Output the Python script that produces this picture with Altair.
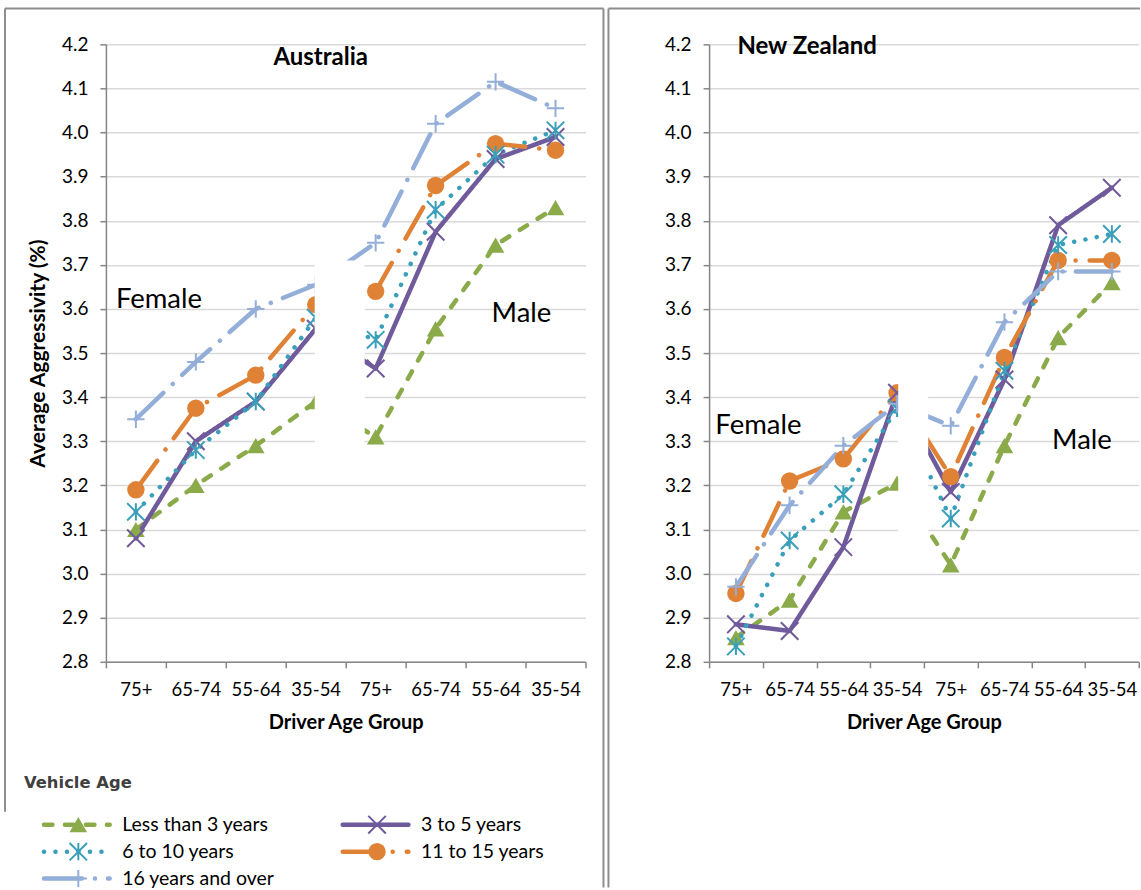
import altair as alt
import pandas as pd

# ---------------- data ----------------
series = ["Less than 3 years", "3 to 5 years", "6 to 10 years", "11 to 15 years", "16 years and over"]
sexes = ["Female", "Male"]
age_groups = ["75+", "65-74", "55-64", "35-54"]
y_ticks = [2.8, 2.9, 3.0, 3.1, 3.2, 3.3, 3.4, 3.5, 3.6, 3.7, 3.8, 3.9, 4.0, 4.1, 4.2]

# order: Female 75+, 65-74, 55-64, 35-54, Male 75+, 65-74, 55-64, 35-54
aus_less_than_3 = [3.10, 3.20, 3.29, 3.39, 3.31, 3.555, 3.745, 3.83]
aus_3_to_5 = [3.08, 3.30, 3.39, 3.555, 3.465, 3.775, 3.94, 3.99]
aus_6_to_10 = [3.14, 3.28, 3.39, 3.58, 3.53, 3.825, 3.95, 4.005]
aus_11_to_15 = [3.19, 3.375, 3.45, 3.61, 3.64, 3.88, 3.975, 3.96]
aus_16_plus = [3.35, 3.48, 3.60, 3.655, 3.75, 4.02, 4.115, 4.055]

nz_less_than_3 = [2.855, 2.94, 3.14, 3.205, 3.02, 3.29, 3.535, 3.66]
nz_3_to_5 = [2.885, 2.87, 3.06, 3.41, 3.185, 3.44, 3.79, 3.875]
nz_6_to_10 = [2.835, 3.075, 3.18, 3.375, 3.125, 3.46, 3.745, 3.77]
nz_11_to_15 = [2.955, 3.21, 3.26, 3.41, 3.22, 3.49, 3.71, 3.71]
nz_16_plus = [2.97, 3.155, 3.29, 3.385, 3.335, 3.57, 3.685, 3.685]

# ---------------- styles ----------------
FONT = "Lato"
AXIS_GRAY = "#868686"
BORDER = "#8E8E8E"
COLORS = ["#8BAA4A", "#6F5A9B", "#3A9FBA", "#E08236", "#93AED8"]
DASHES = [[8.5, 12.5], [1, 0], [0.1, 11.4], [36, 14, 0.1, 14], [38, 13, 0.1, 13]]
SHAPES = ["triangle-up", "M-1,-1L1,1M-1,1L1,-1", "M-1,-1L1,1M-1,1L1,-1M0,-1L0,1",
          "circle", "M-1,0L1,0M0,-1L0,1"]
SIZES = [310, 300, 290, 390, 260]
FILLED = [series[0], series[3]]
STROKED = [series[1], series[2], series[4]]
XTICK_FS = 18.5
YTICK_FS = 19

cats = [f"{s[0]}|{a}" for s in sexes for a in age_groups]

color_scale = alt.Scale(domain=series, range=COLORS)
dash_scale = alt.Scale(domain=series, range=DASHES)
shape_scale = alt.Scale(domain=series, range=SHAPES)
size_scale = alt.Scale(domain=series, range=SIZES)


def long_df(values):
    rows = []
    for s, vals in zip(series, values):
        for i, (c, v) in enumerate(zip(cats, vals)):
            rows.append({"series": s, "cat": c, "pos": i, "val": v})
    return pd.DataFrame(rows)


aus_df = long_df([aus_less_than_3, aus_3_to_5, aus_6_to_10, aus_11_to_15, aus_16_plus])
nz_df = long_df([nz_less_than_3, nz_3_to_5, nz_6_to_10, nz_11_to_15, nz_16_plus])

x_axis = alt.Axis(
    labelExpr="split(datum.value, '|')[1]", tickBand="extent", labelAngle=0,
    labelFont=FONT, labelFontSize=XTICK_FS, labelColor="black", labelPadding=13,
    labelOverlap=False, tickSize=6, tickColor=AXIS_GRAY, tickWidth=1.5,
    domainColor=AXIS_GRAY, domainWidth=1.5, grid=False,
    titleFont=FONT, titleFontSize=20, titleFontWeight="bold", titleColor="black",
    titlePadding=13)

y_axis = alt.Axis(
    values=y_ticks, format=".1f", grid=True, gridColor="#D9D9D9", gridWidth=1.5,
    domainColor=AXIS_GRAY, domainWidth=1.5, tickColor=AXIS_GRAY, tickWidth=1.5,
    tickSize=6, labelFont=FONT, labelFontSize=YTICK_FS, labelColor="black",
    labelPadding=12, titleFont=FONT, titleFontSize=21, titleFontWeight="bold",
    titleColor="black", titlePadding=13)


def xenc(field="cat", bp=0.5):
    return alt.X(f"{field}:N", bandPosition=bp,
                 scale=alt.Scale(type="band", domain=cats, paddingInner=0, paddingOuter=0),
                 axis=x_axis, title="Driver Age Group")


def yenc(ytitle, field="val"):
    return alt.Y(f"{field}:Q", scale=alt.Scale(domain=[2.8, 4.2], nice=False, zero=False),
                 axis=y_axis, title=ytitle)


one = pd.DataFrame({"k": [0]})


def vrule(x, y0, y1):
    return alt.Chart(one).mark_rule(color=BORDER, strokeWidth=2).encode(
        x=alt.value(x), y=alt.value(y0), y2=alt.value(y1))


def hrule(x0, x1, y):
    return alt.Chart(one).mark_rule(color=BORDER, strokeWidth=2).encode(
        x=alt.value(x0), x2=alt.value(x1), y=alt.value(y))


def panel(df, ytitle, notes, gap, borders, width):
    col = alt.Color("series:N", scale=color_scale, legend=None)
    lines = alt.Chart(df).mark_line(strokeWidth=4.5, strokeCap="round", strokeJoin="round").encode(
        x=xenc(), y=yenc(ytitle), color=col,
        strokeDash=alt.StrokeDash("series:N", scale=dash_scale, legend=None),
        order=alt.Order("pos:Q"))
    pts_f = alt.Chart(df).transform_filter(
        alt.FieldOneOfPredicate(field="series", oneOf=FILLED)
    ).mark_point(filled=True, opacity=1).encode(
        x=xenc(), y=yenc(ytitle), color=col,
        shape=alt.Shape("series:N", scale=shape_scale, legend=None),
        size=alt.Size("series:N", scale=size_scale, legend=None))
    pts_s = alt.Chart(df).transform_filter(
        alt.FieldOneOfPredicate(field="series", oneOf=STROKED)
    ).mark_point(filled=False, opacity=1, strokeWidth=2).encode(
        x=xenc(), y=yenc(ytitle), color=col,
        shape=alt.Shape("series:N", scale=shape_scale, legend=None),
        size=alt.Size("series:N", scale=size_scale, legend=None))
    gdf = pd.DataFrame({"cat": [gap[0]], "cat2": [gap[2]], "val": [gap[4]], "val2": [gap[5]]})
    gap_rect = alt.Chart(gdf).mark_rect(color="white").encode(
        x=xenc("cat", gap[1]), x2=alt.X2("cat2", bandPosition=gap[3]),
        y=yenc(ytitle), y2=alt.Y2("val2"))
    texts = []
    for (txt, c, v, bp, align, size, weight) in notes:
        tdf = pd.DataFrame({"cat": [c], "val": [v], "txt": [txt]})
        texts.append(alt.Chart(tdf).mark_text(
            align=align, baseline="middle", font=FONT, fontSize=size,
            fontWeight=weight, color="black").encode(
            x=xenc("cat", bp), y=yenc(ytitle), text="txt:N"))
    return alt.layer(lines, pts_f, pts_s, gap_rect, *texts, *borders).properties(
        width=width, height=618)


aus_notes = [
    ("Australia", "F|35-54", 4.17, 0.583, "center", 24, "bold"),
    ("Female", "F|75+", 3.62, 0.167, "left", 27.5, "normal"),
    ("Male", "M|55-64", 3.588, 0.433, "left", 27.5, "normal"),
]
nz_notes = [
    ("New Zealand", "F|75+", 4.193, 0.527, "left", 24, "bold"),
    ("Female", "F|75+", 3.335, 0.117, "left", 27.5, "normal"),
    ("Male", "M|55-64", 3.30, 0.387, "left", 27.5, "normal"),
]
aus_gap = ("F|35-54", 0.483, "M|75+", 0.317, 3.24, 3.71)
nz_gap = ("F|35-54", 0.522, "M|75+", 0.08, 3.05, 3.45)

aus_borders = [hrule(-101, 498, -36), vrule(-101, -36, 768), vrule(498, -36, 844)]
nz_borders = [hrule(-100.7, 431.3, -36), vrule(-100.7, -36, 844)]

aus = panel(aus_df, "Average Aggressivity (%)", aus_notes, aus_gap, aus_borders, 480)
nz = panel(nz_df, None, nz_notes, nz_gap, nz_borders, 430)

# ---------------- legend ----------------
leg_df = pd.DataFrame({"series": series, "idx": list(range(len(series)))})
leg_x = alt.Scale(domain=[0, 1], range=[-62, 237])
leg_y = alt.Scale(domain=[0, 2], range=[0, 54])
lbase = alt.Chart(leg_df).transform_calculate(
    col="datum.idx % 2", row="floor(datum.idx / 2)",
    xend="datum.idx % 2 + 0.22", xm="datum.idx % 2 + 0.115", xt="datum.idx % 2 + 0.262")
lcol = alt.Color("series:N", scale=color_scale, legend=None)
seg = lbase.mark_rule(strokeWidth=4.5, strokeCap="round").encode(
    x=alt.X("col:Q", scale=leg_x, axis=None), x2="xend:Q",
    y=alt.Y("row:Q", scale=leg_y, axis=None), color=lcol,
    strokeDash=alt.StrokeDash("series:N", scale=dash_scale, legend=None))
lpf = lbase.transform_filter(alt.FieldOneOfPredicate(field="series", oneOf=FILLED)).mark_point(
    filled=True, opacity=1).encode(
    x=alt.X("xm:Q", scale=leg_x, axis=None), y=alt.Y("row:Q", scale=leg_y, axis=None),
    color=lcol, shape=alt.Shape("series:N", scale=shape_scale, legend=None),
    size=alt.Size("series:N", scale=size_scale, legend=None))
lps = lbase.transform_filter(alt.FieldOneOfPredicate(field="series", oneOf=STROKED)).mark_point(
    filled=False, opacity=1, strokeWidth=2).encode(
    x=alt.X("xm:Q", scale=leg_x, axis=None), y=alt.Y("row:Q", scale=leg_y, axis=None),
    color=lcol, shape=alt.Shape("series:N", scale=shape_scale, legend=None),
    size=alt.Size("series:N", scale=size_scale, legend=None))
ltxt = lbase.mark_text(align="left", baseline="middle", font=FONT, fontSize=19.5,
                       color="black").encode(
    x=alt.X("xt:Q", scale=leg_x, axis=None), y=alt.Y("row:Q", scale=leg_y, axis=None),
    text="series:N")
legend = alt.layer(seg, lpf, lps, ltxt).properties(
    width=300, height=54,
    title=alt.TitleParams("Vehicle Age", anchor="start", frame="group", dx=-82, offset=21,
                          font="DejaVu Sans", fontSize=16.4, fontWeight="bold",
                          color="#404040"))

chart = alt.concat(aus, nz, legend, columns=2, spacing={"row": 163, "column": 123.7},
                   bounds="flush").resolve_scale(
    x="independent", y="independent").properties(
    padding={"left": 4, "top": 7, "right": 0, "bottom": 0},
    background="white").configure(font=FONT).configure_view(stroke=None)

chart.save("out.html", embed_options={"renderer": "svg", "actions": False})
